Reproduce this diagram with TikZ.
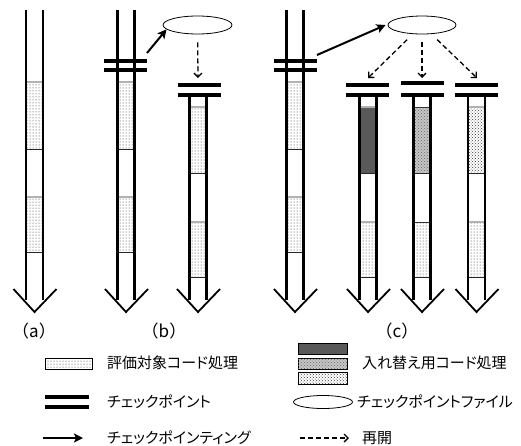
\documentclass[tikz,border=0pt]{standalone}
\usepackage{fontspec}
\newfontfamily\jp[RawFeature=+palt]{Noto Sans CJK JP}
\newfontfamily\jpfull{Noto Sans CJK JP}
\usetikzlibrary{patterns,arrows.meta,shapes.geometric}
\newcommand\pipebody[2]{%
  \draw[pipeline] (#1-8.5,#2) -- (#1-8.5,300) (#1+8.5,#2) -- (#1+8.5,300);
  \draw[vtip] (#1-21,289) -- (#1,312) -- (#1+22,289);}
\newcommand\segbox[5]{%
  \path[#4] (#1-8.5,#2) rectangle (#1+8.5,#3);
  \draw[#5] (#1-8.5,#2) -- (#1+8.5,#2);
  \draw[botedge] (#1-8.5,#3) -- (#1+8.5,#3);}
\newcommand\cpbars[3]{%
  \draw[cpbar] (#1-21.5,#2) -- (#1+21.5,#2) (#1-21.5,#3) -- (#1+21.5,#3);}
\begin{document}
\begin{tikzpicture}[x=1pt,y=-1pt,
  pipeline/.style={line width=2.6pt},
  vtip/.style={line width=1.8pt,line join=miter},
  cpbar/.style={line width=3.8pt},
  evalfill/.style={pattern=dots,pattern color=black!85},
  darkfill/.style={fill=black!65},
  medfill/.style={fill=gray!45,postaction={pattern=crosshatch dots,pattern color=black!60}},
  sparsefill/.style={pattern=crosshatch dots,pattern color=black!75},
  topedge/.style={draw=gray!60,line width=1.2pt},
  darkedge/.style={draw=black!80,line width=1pt},
  botedge/.style={draw=black!85,line width=0.8pt},
  cparrow/.style={line width=2pt,-{Stealth[length=9pt,width=9pt,inset=2pt]}},
  resume/.style={line width=1.3pt,dash pattern=on 5pt off 3pt,-{Straight Barb[length=4pt,width=8pt]}},
  cpfile/.style={draw,ellipse,line width=0.8pt,inner sep=0pt},
  lbl/.style={font=\jp\fontsize{15}{17}\selectfont,inner sep=0pt},
  sublbl/.style={font=\jpfull\fontsize{17}{19}\selectfont,inner sep=0pt},
]
\useasboundingbox (0,0) rectangle (521,445);
% (a)
\segbox{34.5}{82}{149}{evalfill}{topedge}
\segbox{34.5}{197}{252}{evalfill}{topedge}
\pipebody{34.5}{10}
% (b) original run
\segbox{126}{82}{149}{evalfill}{topedge}
\segbox{126}{197}{252}{evalfill}{topedge}
\pipebody{126}{10}
\cpbars{125.5}{61}{70}
\coordinate (bcp) at (147,53);
% (b) restarted run
\segbox{198}{107}{173}{evalfill}{topedge}
\segbox{198}{222}{277}{evalfill}{topedge}
\pipebody{198}{95}
\cpbars{199}{85}{95}
\coordinate (brs) at (198,78);
\node[cpfile,minimum width=69pt,minimum height=18pt] (fileb) at (197.5,25) {};
\draw[cparrow] (bcp) -- (fileb.188);
\draw[resume,shorten <=8pt] (fileb) -- (brs);
% (c) original run
\segbox{295}{82}{149}{evalfill}{topedge}
\segbox{295}{197}{252}{evalfill}{topedge}
\pipebody{295}{10}
\cpbars{295.5}{61}{70}
\coordinate (ccp) at (317,55);
\node[cpfile,minimum width=68pt,minimum height=18pt] (filec) at (422,25) {};
\draw[cparrow] (ccp) -- ([xshift=-2pt]filec.west);
% (c) restarted runs
\segbox{368}{107}{173}{darkfill}{topedge}
\segbox{368}{222}{277}{evalfill}{topedge}
\pipebody{368}{95}
\cpbars{367.5}{85}{95}
\coordinate (crs1) at (368,78);
\segbox{422}{107}{173}{medfill}{darkedge}
\segbox{422}{222}{277}{evalfill}{darkedge}
\pipebody{422}{95}
\cpbars{422.5}{83}{95}
\coordinate (crs2) at (422,78);
\segbox{476.5}{107}{173}{sparsefill}{topedge}
\segbox{476.5}{222}{277}{evalfill}{topedge}
\pipebody{476.5}{95}
\cpbars{476.5}{85}{95}
\coordinate (crs3) at (477,78);
\draw[resume,shorten <=8pt] (filec) -- (crs1);
\draw[resume,shorten <=8pt] (filec) -- (crs2);
\draw[resume,shorten <=8pt] (filec) -- (crs3);
% labels
\node[sublbl] (la) at (34,331) {（a）};
\node[sublbl] (lb) at (164,331) {（b）};
\node[sublbl] (lc) at (397,331) {（c）};
% legend left
\path[evalfill,draw=black,line width=0.8pt] (45,358) rectangle (92,369);
\node[lbl,anchor=west] (t1) at (107,363) {評価対象コード処理};
\draw[cpbar] (45,397) -- (89,397) (45,407) -- (89,407);
\node[lbl,anchor=west] (t2) at (107,402) {チェックポイント};
\coordinate (lga0) at (43,438);
\coordinate (lga1) at (83,438);
\draw[cparrow] (lga0) -- (lga1);
\node[lbl,anchor=west] (t3) at (107,438) {チェックポインティング};
% legend right
\path[darkfill,draw=black,line width=0.8pt] (298,343) rectangle (347,354);
\path[medfill,draw=black,line width=0.8pt] (298,358) rectangle (347,369);
\path[sparsefill,draw=black,line width=0.8pt] (298,372) rectangle (347,384);
\node[lbl,anchor=west] (t4) at (362,363) {入れ替え用コード処理};
\node[cpfile,minimum width=59pt,minimum height=13pt] (lgfile) at (323,402) {};
\node[lbl,anchor=west] (t5) at (357,402) {チェックポイントファイル};
\coordinate (lgr0) at (300,438);
\coordinate (lgr1) at (349,438);
\draw[resume] (lgr0) -- (lgr1);
\node[lbl,anchor=west] (t6) at (362,438) {再開};
\end{tikzpicture}
\end{document}
